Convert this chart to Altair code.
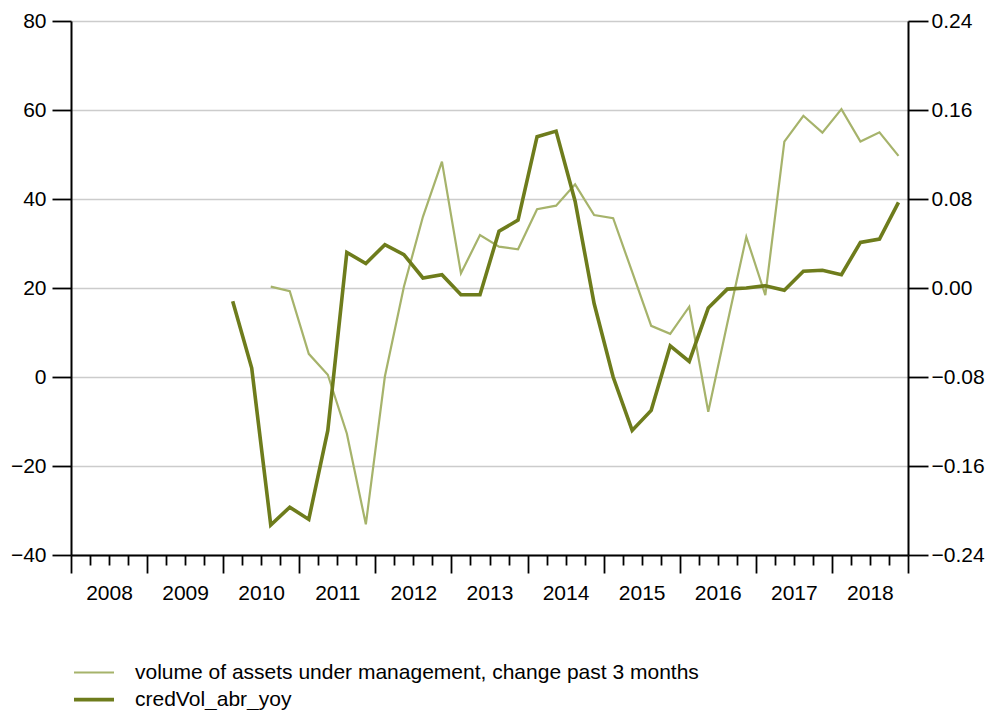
import altair as alt
import pandas as pd

# ---- data (quarterly, 2010Q1 .. 2018Q4) ----
years = [2010, 2011, 2012, 2013, 2014, 2015, 2016, 2017, 2018]
quarters = [f"{y}Q{q}" for y in years for q in (1, 2, 3, 4)]

# volume of assets under management, change past 3 months (left axis)
aum = [None, None, 20.3, 19.3,
       5.2, 0.5, -12.7, -33.1,
       0.1, 20.3, 36.0, 48.4,
       23.3, 31.9, 29.3, 28.7,
       37.7, 38.5, 43.3, 36.4,
       35.7, 23.6, 11.5, 9.7,
       15.8, -7.8, 12.0, 31.5,
       18.4, 52.9, 58.7, 54.9,
       60.2, 52.9, 55.0, 49.7]

# credVol_abr_yoy (right axis)
credvol = [-0.012, -0.072, -0.213, -0.197,
           -0.208, -0.128, 0.032, 0.022,
           0.039, 0.030, 0.009, 0.012,
           -0.006, -0.006, 0.051, 0.061,
           0.136, 0.141, 0.078, -0.014,
           -0.080, -0.128, -0.110, -0.052,
           -0.066, -0.018, -0.001, 0.000,
           0.002, -0.002, 0.015, 0.016,
           0.012, 0.041, 0.044, 0.077]

series_names = ["volume of assets under management, change past 3 months", "credVol_abr_yoy"]
series_colors = ["#a6b36b", "#6e7c1c"]
series_widths = [2.2, 3.6]

left_ticks = [-40, -20, 0, 20, 40, 60, 80]
right_ticks = [-0.24, -0.16, -0.08, 0.0, 0.08, 0.16, 0.24]
x_ticks = [2008 + i / 4 for i in range(0, 45)]

def qpos(label):
    y, q = label.split("Q")
    return int(y) + (int(q) - 0.5) / 4

df_a = pd.DataFrame({"t": [qpos(q) for q in quarters], "v": aum, "series": series_names[0]}).dropna()
df_b = pd.DataFrame({"t": [qpos(q) for q in quarters], "v": credvol, "series": series_names[1]})

FONT = "Liberation Sans"

x_enc = alt.X(
    "t:Q",
    scale=alt.Scale(domain=[2008, 2019], nice=False, zero=False),
    axis=alt.Axis(
        values=x_ticks, title=None, grid=False,
        domainColor="black", domainWidth=2,
        tickColor="black", tickWidth=1.8,
        tickSize={"condition": {"test": "datum.value % 1 === 0", "value": 18}, "value": 10},
        labelExpr="(datum.value % 1 === 0 && datum.value < 2019) ? toString(datum.value) : ''",
        labelOffset=38, labelPadding=9, labelFlush=False, labelOverlap=False,
        labelFontSize=21, labelColor="black", labelFont=FONT,
    ),
)

legend = alt.Legend(
    title=None, orient="none", legendX=11, legendY=640, direction="vertical",
    symbolType="M-2,0H2", symbolSize=400, labelOffset=29, labelFontSize=21,
    labelFont=FONT, labelColor="black", rowPadding=4.6, padding=0, labelLimit=1000,
)

color_enc = alt.Color("series:N", scale=alt.Scale(domain=series_names, range=series_colors), legend=legend)
width_enc = alt.StrokeWidth("series:N", scale=alt.Scale(domain=series_names, range=series_widths), legend=legend)

layer_a = alt.Chart(df_a).mark_line().encode(
    x=x_enc,
    y=alt.Y(
        "v:Q",
        scale=alt.Scale(domain=[-40, 80], nice=False, zero=False),
        axis=alt.Axis(
            values=left_ticks, title=None, orient="left", grid=True,
            gridColor="#cccccc", gridWidth=1.5,
            domainColor="black", domainWidth=2, tickColor="black", tickWidth=1.8,
            tickSize=19, labelPadding=6, labelFontSize=21, labelColor="black", labelFont=FONT,
        ),
    ),
    color=color_enc,
    strokeWidth=width_enc,
)

layer_b = alt.Chart(df_b).mark_line().encode(
    x=x_enc,
    y=alt.Y(
        "v:Q",
        scale=alt.Scale(domain=[-0.24, 0.24], nice=False, zero=False),
        axis=alt.Axis(
            values=right_ticks, format=".2f", title=None, orient="right", grid=False,
            domainColor="black", domainWidth=2, tickColor="black", tickWidth=1.8,
            tickSize=20, labelPadding=3, labelFontSize=21, labelColor="black", labelFont=FONT,
        ),
    ),
    color=color_enc,
    strokeWidth=width_enc,
)

chart = (
    alt.layer(layer_a, layer_b)
    .resolve_scale(y="independent")
    .properties(
        width=837, height=534,
        autosize=alt.AutoSizeParams(type="none"),
        padding={"left": 63, "top": 13, "right": 77, "bottom": 155},
        background="white",
    )
    .configure_view(stroke=None)
    .configure(font=FONT)
)

chart.save("out.html", embed_options={"renderer": "svg", "actions": False})
